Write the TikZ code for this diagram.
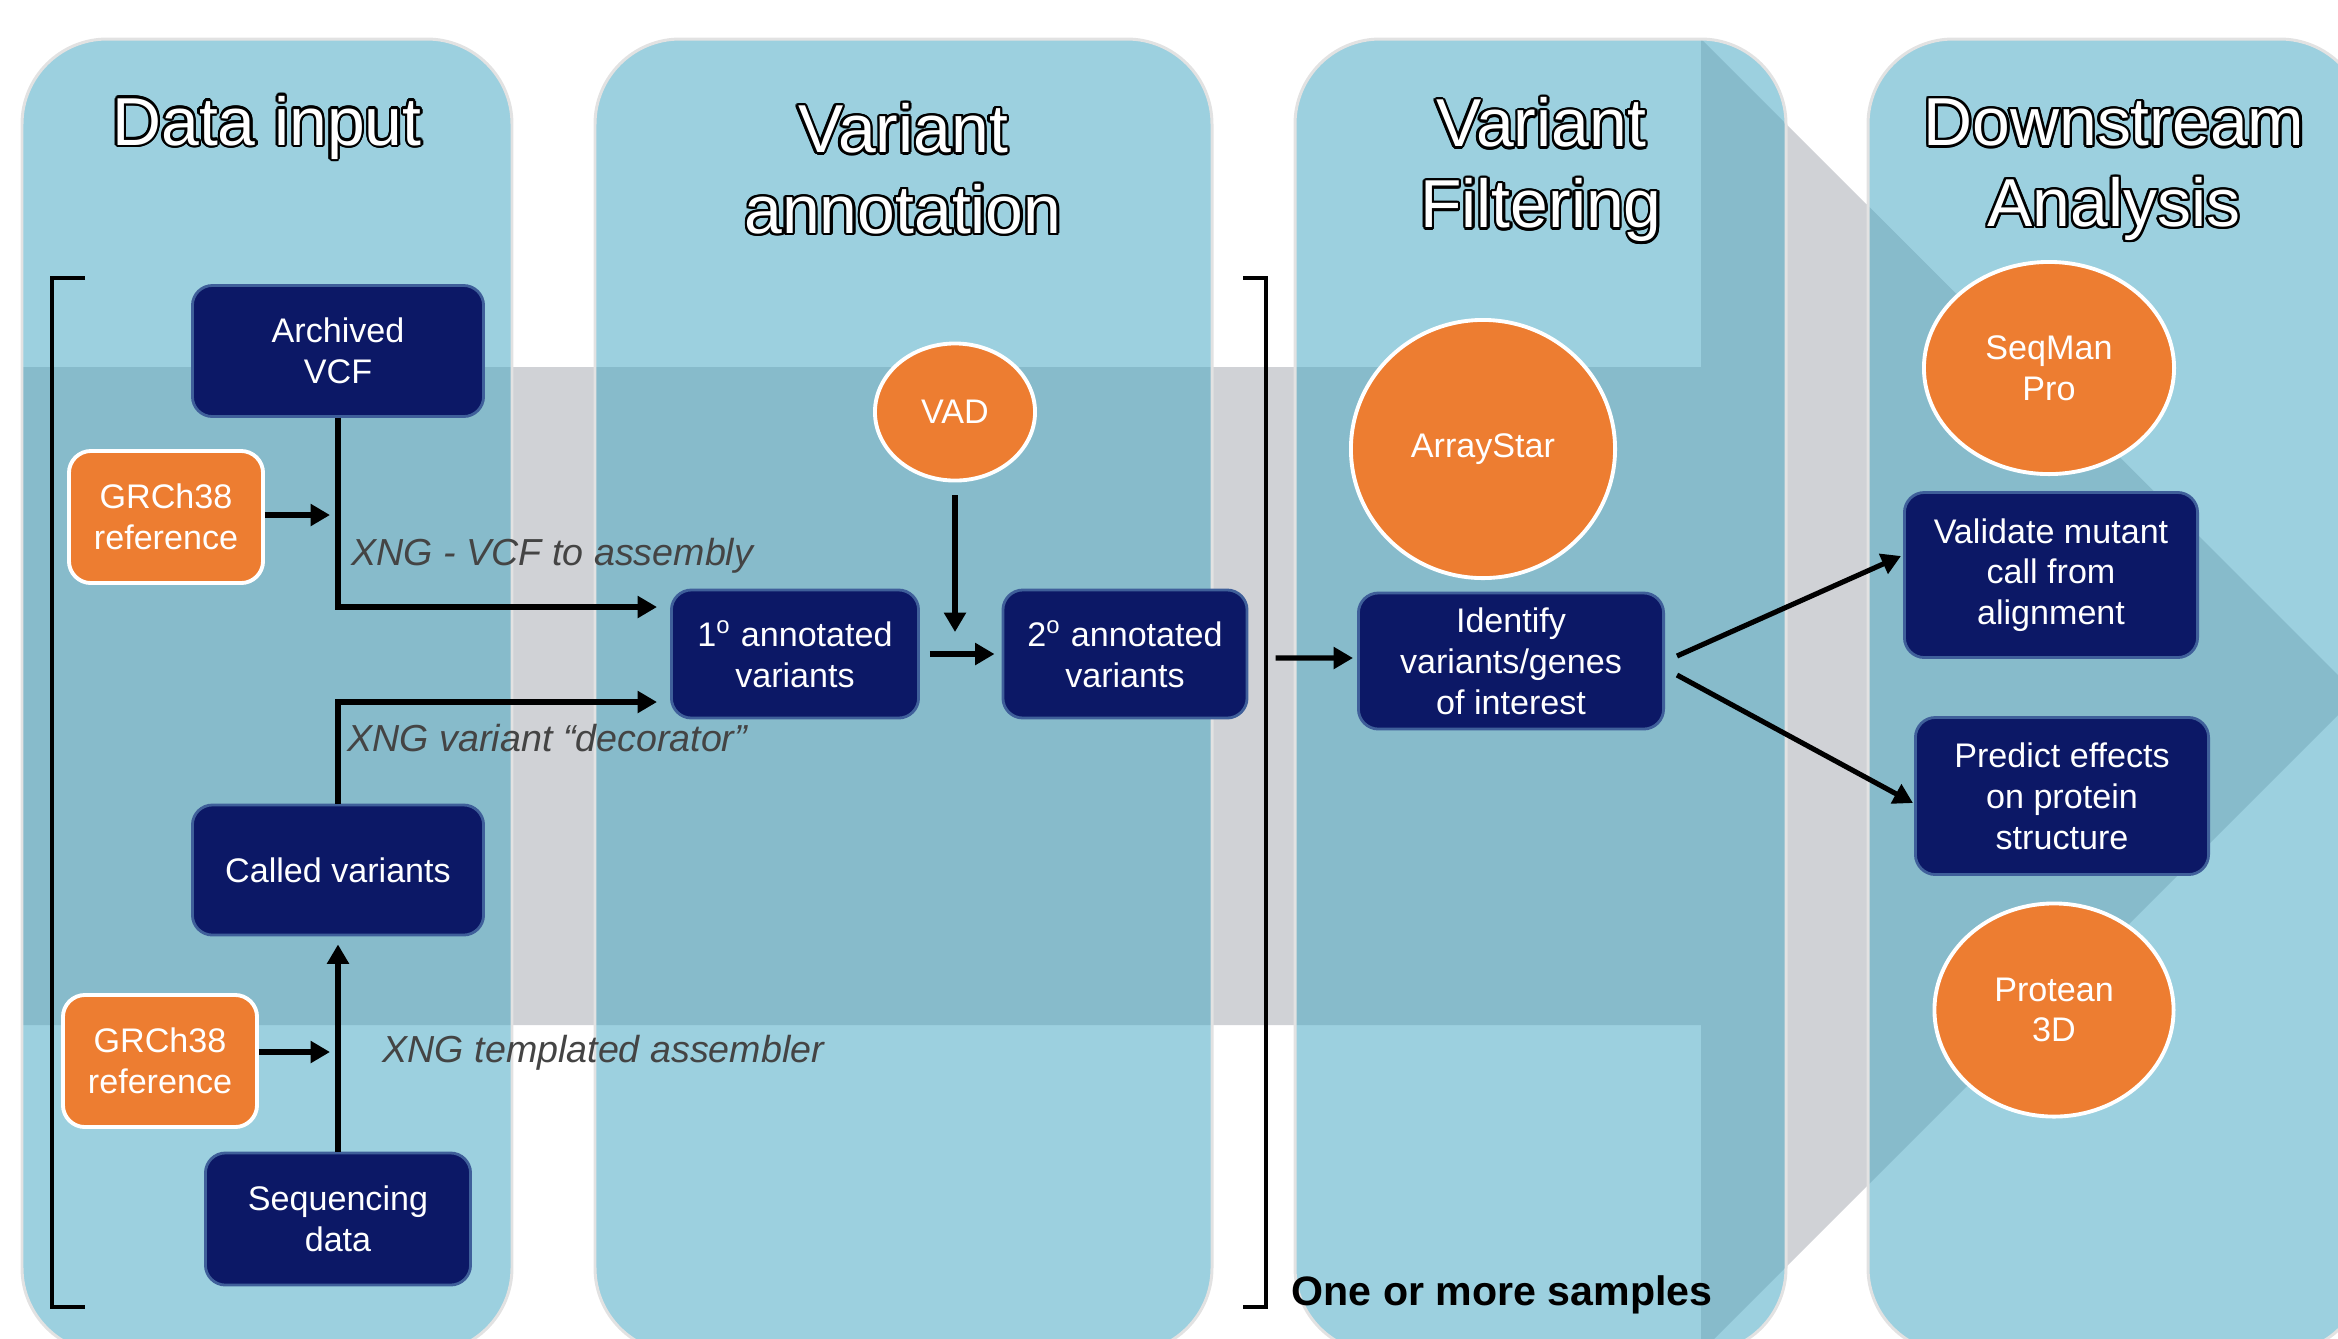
\documentclass[tikz,border=0pt]{standalone}
\usepackage{fontspec}
\setmainfont{Liberation Sans}
\usepackage{contour}
\contourlength{0.7pt}
\usetikzlibrary{arrows.meta,shapes.geometric}

\definecolor{panelblue}{HTML}{9CD0DF}
\definecolor{banddark}{HTML}{87BBCB}
\definecolor{bandgray}{HTML}{D0D2D6}
\definecolor{panelrim}{HTML}{E2E2E2}
\definecolor{navy}{HTML}{0C1866}
\definecolor{navyrim}{HTML}{3F5F9A}
\definecolor{tool}{HTML}{ED7D31}
\definecolor{notegray}{HTML}{444444}

\begin{document}
\begin{tikzpicture}[x=0.01cm, y=-0.01cm]
        \tikzstyle{navybox}=[rectangle, rounded corners=0.2cm, fill=navy, draw=navyrim, line width=0.8pt, text=white, align=center, inner sep=0pt, font=\fontsize{9.7}{11.6}\selectfont]
        \tikzstyle{refbox}=[rectangle, rounded corners=0.22cm, fill=tool, draw=white, line width=1.1pt, text=white, align=center, inner sep=0pt, minimum width=1.94cm, minimum height=1.32cm, font=\fontsize{9.7}{11.6}\selectfont]
        \tikzstyle{toolnode}=[ellipse, fill=tool, draw=white, line width=1.1pt, text=white, align=center, inner sep=0pt, font=\fontsize{9.7}{11.6}\selectfont]
        \tikzstyle{title}=[align=center, text=white, inner sep=0pt, font=\fontsize{19.3}{23}\selectfont]
        \tikzstyle{note}=[anchor=base west, inner sep=0pt, text=notegray, font=\fontsize{10.7}{12}\selectfont\itshape]
        \tikzstyle{link}=[line width=1.45pt, -{Triangle[length=5.5pt,width=6pt]}]
        \useasboundingbox (0,0) rectangle (2338,1338);
        \fill[bandgray] (22,367) -- (1701,367) -- (1701,39) -- (2358,695) -- (1701,1352) -- (1701,1025) -- (22,1025) -- cycle;
        \foreach \l/\r in {22/512, 595/1212, 1295/1786, 1868/2365}
            \fill[panelblue, rounded corners=0.85cm] (\l,39) rectangle (\r,1353);
        \begin{scope}
            \clip[rounded corners=0.85cm] (22,39) rectangle (512,1353) (595,39) rectangle (1212,1353)
                (1295,39) rectangle (1786,1353) (1868,39) rectangle (2365,1353);
            \fill[banddark] (22,367) -- (1701,367) -- (1701,39) -- (2358,695) -- (1701,1352) -- (1701,1025) -- (22,1025) -- cycle;
        \end{scope}
        \foreach \l/\r in {22/512, 595/1212, 1295/1786, 1868/2365}
            \draw[panelrim, line width=0.85pt, rounded corners=0.85cm] (\l,39) rectangle (\r,1353);
        \node[title, anchor=base] (head1) at (267,145) {\contour{black}{Data input}};
        \node[title] (head2) at (903,170) {\contour{black}{Variant}\\\contour{black}{annotation}};
        \node[title] (head3) at (1541,171) {\contour{black}{Variant}\\\contour{black}{Filtering}};
        \node[title] (head4) at (2114,171) {\contour{black}{Downstream}\\\contour{black}{Analysis}};
        \draw[line width=1.4pt] (85,278) -- (52,278) -- (52,1307) -- (85,1307);
        \draw[line width=1.4pt] (1243,278) -- (1266,278) -- (1266,1307) -- (1243,1307);
        \node[anchor=base west, inner sep=0pt, font=\fontsize{11.7}{14}\selectfont\bfseries] (samples) at (1291,1305) {One or more samples};
        \node[navybox, minimum width=2.91cm, minimum height=1.31cm] (vcf) at (338,351) {Archived\\VCF};
        \node[refbox] (ref1) at (166,517) {GRCh38\\reference};
        \node[navybox, minimum width=2.91cm, minimum height=1.30cm] (called) at (338,870) {Called variants};
        \node[refbox] (ref2) at (160,1061) {GRCh38\\reference};
        \node[navybox, minimum width=2.65cm, minimum height=1.32cm] (seq) at (338,1219) {Sequencing\\data};
        \node[navybox, minimum width=2.47cm, minimum height=1.28cm] (ann1) at (795,654) {1\textsuperscript{o} annotated\\variants};
        \node[navybox, minimum width=2.44cm, minimum height=1.28cm] (ann2) at (1125,654) {2\textsuperscript{o} annotated\\variants};
        \node[toolnode, minimum width=1.60cm, minimum height=1.37cm] (vad) at (955,412) {VAD};
        \node[toolnode, minimum width=2.64cm, minimum height=2.58cm] (star) at (1483,449) {ArrayStar};
        \node[navybox, minimum width=3.05cm, minimum height=1.36cm] (ident) at (1511,661) {Identify\\variants/genes\\of interest};
        \node[toolnode, minimum width=2.50cm, minimum height=2.12cm] (seqman) at (2049,368) {SeqMan\\Pro};
        \node[navybox, minimum width=2.93cm, minimum height=1.65cm] (valid) at (2051,575) {Validate mutant\\call from\\alignment};
        \node[navybox, minimum width=2.93cm, minimum height=1.57cm] (predict) at (2062,796) {Predict effects\\on protein\\structure};
        \node[toolnode, minimum width=2.39cm, minimum height=2.13cm] (protean) at (2054,1010) {Protean\\3D};
        \node[note] (note1) at (351,565) {XNG - VCF to assembly};
        \node[note] (note2) at (347,751) {XNG variant “decorator”};
        \node[note] (note3) at (382,1062) {XNG templated assembler};
        \coordinate (in1) at (657,607);
        \coordinate (in2) at (657,702);
        \coordinate (t1) at (330,515);
        \coordinate (t2) at (330,1052);
        \coordinate (t3) at (955,632);
        \draw[link] (vcf.south) |- (in1);
        \draw[link] (called.north) |- (in2);
        \draw[link] (seq.north) -- ([yshift=-0.08cm]called.south);
        \draw[link] (ref1.east |- t1) -- (t1);
        \draw[link] (ref2.east |- t2) -- (t2);
        \draw[link] ([yshift=-0.13cm]vad.south) -- (t3);
        \draw[link] ([xshift=0.1cm]ann1.east) -- ([xshift=-0.07cm]ann2.west);
        \draw[link] ([xshift=0.27cm,yshift=-0.04cm]ann2.east) -- ([xshift=-0.04cm,yshift=0.03cm]ident.west);
        \draw[link] ([xshift=0.12cm,yshift=0.05cm]ident.east) -- ([xshift=-0.02cm,yshift=0.19cm]valid.west);
        \draw[link] ([xshift=0.12cm,yshift=-0.14cm]ident.east) -- ([xshift=-0.01cm,yshift=-0.07cm]predict.west);
\end{tikzpicture}
\end{document}
